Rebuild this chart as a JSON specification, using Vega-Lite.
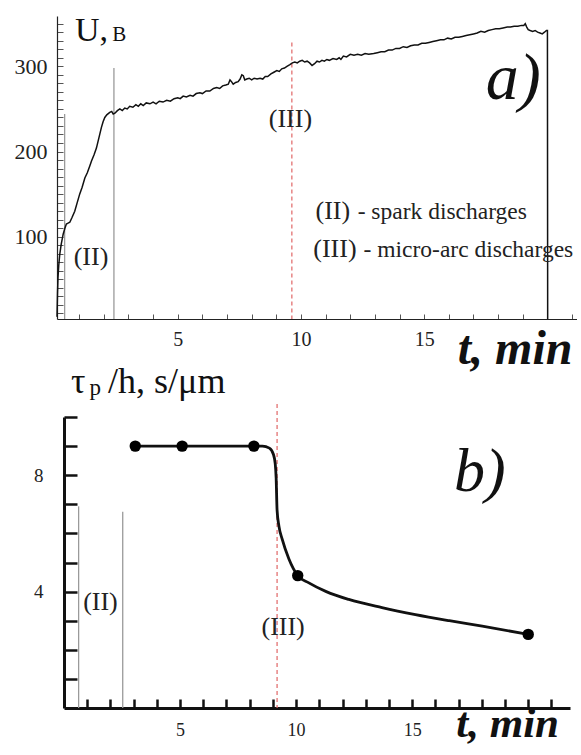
{
  "$schema": "https://vega.github.io/schema/vega-lite/v6.json",
  "padding": {"left": 14, "top": 12, "right": 0, "bottom": 0},
  "background": "white",
  "spacing": 98,
  "bounds": "flush",
  "center": true,
  "config": {
    "font": "Liberation Serif",
    "view": {"stroke": null},
    "axis": {"grid": false, "title": null, "labelFont": "Liberation Serif", "labelColor": "#222", "labelOverlap": false, "labelFlush": false}
  },
  "datasets": {
    "voltage": [
      {"t": 0.1, "v": 6}, {"t": 0.12, "v": 33}, {"t": 0.14, "v": 52}, {"t": 0.17, "v": 66}, {"t": 0.21, "v": 79},
      {"t": 0.27, "v": 91}, {"t": 0.35, "v": 103}, {"t": 0.42, "v": 110}, {"t": 0.48, "v": 115}, {"t": 0.55, "v": 116},
      {"t": 0.62, "v": 117}, {"t": 0.7, "v": 122}, {"t": 0.82, "v": 130}, {"t": 0.92, "v": 140}, {"t": 1.02, "v": 150},
      {"t": 1.12, "v": 158}, {"t": 1.23, "v": 169}, {"t": 1.33, "v": 175}, {"t": 1.43, "v": 183}, {"t": 1.5, "v": 189},
      {"t": 1.6, "v": 196}, {"t": 1.7, "v": 204}, {"t": 1.8, "v": 216}, {"t": 1.9, "v": 228}, {"t": 1.97, "v": 235},
      {"t": 2.04, "v": 240}, {"t": 2.12, "v": 243}, {"t": 2.24, "v": 246}, {"t": 2.32, "v": 247}, {"t": 2.38, "v": 244},
      {"t": 2.45, "v": 245}, {"t": 2.55, "v": 248}, {"t": 2.65, "v": 250}, {"t": 2.75, "v": 248}, {"t": 2.85, "v": 251},
      {"t": 2.95, "v": 250}, {"t": 3.05, "v": 253}, {"t": 3.18, "v": 252}, {"t": 3.3, "v": 255}, {"t": 3.4, "v": 253},
      {"t": 3.5, "v": 256}, {"t": 3.6, "v": 254}, {"t": 3.72, "v": 257}, {"t": 3.87, "v": 256}, {"t": 4.0, "v": 258},
      {"t": 4.12, "v": 256}, {"t": 4.25, "v": 259}, {"t": 4.4, "v": 258}, {"t": 4.55, "v": 260}, {"t": 4.7, "v": 259},
      {"t": 4.85, "v": 262}, {"t": 5.0, "v": 263}, {"t": 5.1, "v": 262}, {"t": 5.22, "v": 265}, {"t": 5.35, "v": 264},
      {"t": 5.5, "v": 266}, {"t": 5.62, "v": 265}, {"t": 5.75, "v": 268}, {"t": 5.9, "v": 269}, {"t": 6.0, "v": 268},
      {"t": 6.15, "v": 271}, {"t": 6.3, "v": 271}, {"t": 6.45, "v": 274}, {"t": 6.58, "v": 275}, {"t": 6.7, "v": 274},
      {"t": 6.82, "v": 277}, {"t": 6.95, "v": 278}, {"t": 7.05, "v": 279}, {"t": 7.12, "v": 284}, {"t": 7.18, "v": 282},
      {"t": 7.25, "v": 279}, {"t": 7.35, "v": 281}, {"t": 7.45, "v": 282}, {"t": 7.53, "v": 285}, {"t": 7.6, "v": 290},
      {"t": 7.66, "v": 289}, {"t": 7.72, "v": 284}, {"t": 7.8, "v": 285}, {"t": 7.9, "v": 286}, {"t": 8.0, "v": 284},
      {"t": 8.1, "v": 286}, {"t": 8.22, "v": 285}, {"t": 8.34, "v": 286}, {"t": 8.45, "v": 285}, {"t": 8.55, "v": 288},
      {"t": 8.65, "v": 288}, {"t": 8.78, "v": 291}, {"t": 8.9, "v": 293}, {"t": 9.02, "v": 295}, {"t": 9.12, "v": 294},
      {"t": 9.22, "v": 297}, {"t": 9.33, "v": 298}, {"t": 9.43, "v": 300}, {"t": 9.55, "v": 302}, {"t": 9.65, "v": 304},
      {"t": 9.75, "v": 305}, {"t": 9.85, "v": 304}, {"t": 9.95, "v": 306}, {"t": 10.05, "v": 307}, {"t": 10.15, "v": 305},
      {"t": 10.25, "v": 306}, {"t": 10.35, "v": 304}, {"t": 10.45, "v": 301}, {"t": 10.55, "v": 303}, {"t": 10.65, "v": 306},
      {"t": 10.75, "v": 305}, {"t": 10.85, "v": 307}, {"t": 10.95, "v": 306}, {"t": 11.05, "v": 308}, {"t": 11.15, "v": 307},
      {"t": 11.3, "v": 309}, {"t": 11.45, "v": 308}, {"t": 11.55, "v": 310}, {"t": 11.62, "v": 308}, {"t": 11.72, "v": 312},
      {"t": 11.85, "v": 311}, {"t": 12.0, "v": 314}, {"t": 12.15, "v": 313}, {"t": 12.3, "v": 314}, {"t": 12.45, "v": 313},
      {"t": 12.6, "v": 315}, {"t": 12.75, "v": 314}, {"t": 12.95, "v": 315}, {"t": 13.1, "v": 316}, {"t": 13.25, "v": 317},
      {"t": 13.4, "v": 317}, {"t": 13.55, "v": 319}, {"t": 13.7, "v": 319}, {"t": 13.85, "v": 321}, {"t": 14.0, "v": 321},
      {"t": 14.15, "v": 323}, {"t": 14.3, "v": 322}, {"t": 14.45, "v": 324}, {"t": 14.6, "v": 325}, {"t": 14.75, "v": 325},
      {"t": 14.9, "v": 327}, {"t": 15.05, "v": 327}, {"t": 15.2, "v": 328}, {"t": 15.35, "v": 329}, {"t": 15.5, "v": 330},
      {"t": 15.66, "v": 331}, {"t": 15.8, "v": 331}, {"t": 15.95, "v": 333}, {"t": 16.1, "v": 332}, {"t": 16.25, "v": 334},
      {"t": 16.4, "v": 334}, {"t": 16.55, "v": 335}, {"t": 16.7, "v": 336}, {"t": 16.85, "v": 337}, {"t": 17.0, "v": 338},
      {"t": 17.15, "v": 339}, {"t": 17.3, "v": 341}, {"t": 17.45, "v": 340}, {"t": 17.6, "v": 342}, {"t": 17.75, "v": 343},
      {"t": 17.9, "v": 344}, {"t": 18.05, "v": 344}, {"t": 18.2, "v": 345}, {"t": 18.37, "v": 346}, {"t": 18.5, "v": 346},
      {"t": 18.65, "v": 347}, {"t": 18.8, "v": 347}, {"t": 18.95, "v": 348}, {"t": 19.04, "v": 348}, {"t": 19.1, "v": 350},
      {"t": 19.16, "v": 346}, {"t": 19.22, "v": 343}, {"t": 19.3, "v": 342}, {"t": 19.4, "v": 341}, {"t": 19.5, "v": 342},
      {"t": 19.6, "v": 340}, {"t": 19.7, "v": 339}, {"t": 19.79, "v": 338}, {"t": 19.88, "v": 340}, {"t": 19.96, "v": 342},
      {"t": 20.0, "v": 342}, {"t": 20.01, "v": 3.5}
    ],
    "bordersA": [
      {"t": 0.41, "v": 244},
      {"t": 2.41, "v": 298}
    ],
    "arcA": [
      {"t": 9.63, "v": 328}
    ],
    "thicknessCurve": [
      {"t": 3.07, "v": 9.0}, {"t": 5.09, "v": 9.0}, {"t": 8.18, "v": 9.0}, {"t": 8.55, "v": 9.0},
      {"t": 8.85, "v": 8.93}, {"t": 9.02, "v": 8.72}, {"t": 9.1, "v": 8.4}, {"t": 9.14, "v": 7.9},
      {"t": 9.18, "v": 6.8}, {"t": 9.26, "v": 6.25}, {"t": 9.4, "v": 5.8}, {"t": 9.69, "v": 5.12},
      {"t": 10.07, "v": 4.55}, {"t": 10.55, "v": 4.3}, {"t": 11.3, "v": 4.0}, {"t": 12.27, "v": 3.73},
      {"t": 13.7, "v": 3.45}, {"t": 15.14, "v": 3.21}, {"t": 16.6, "v": 3.0}, {"t": 18.02, "v": 2.81},
      {"t": 20.0, "v": 2.53}
    ],
    "thicknessPoints": [
      {"t": 3.07, "v": 9.0}, {"t": 5.09, "v": 9.0}, {"t": 8.18, "v": 9.0}, {"t": 10.07, "v": 4.55}, {"t": 20.0, "v": 2.53}
    ],
    "bordersB": [
      {"t": 0.63, "v": 6.93},
      {"t": 2.53, "v": 6.74}
    ],
    "arcB": [
      {"t": 9.18, "v": 10.45}
    ]
  },
  "vconcat": [
    {
      "width": 520,
      "height": 303,
      "encoding": {
        "x": {"field": "t", "type": "quantitative",
          "scale": {"domain": [0.1, 21.2], "nice": false, "zero": false},
          "axis": {
            "values": [1,2,3,4,5,6,7,8,9,10,11,12,13,14,15,16,17,18,19,20,21],
            "labelExpr": "datum.value == 5 || datum.value == 10 || datum.value == 15 ? datum.label : ''",
            "tickSize": -5, "tickColor": "#555", "tickWidth": 1,
            "domainColor": "#222", "domainWidth": 1.2,
            "labelFontSize": 20, "labelPadding": 15, "labelBaseline": "top"
          }
        },
        "y": {"field": "v", "type": "quantitative",
          "scale": {"domain": [3.5, 359], "nice": false, "zero": false},
          "axis": {
            "values": [10,20,30,40,50,60,70,80,90,100,110,120,130,140,150,160,170,180,190,200,210,220,230,240,250,260,270,280,290,300,310,320,330,340,350],
            "labelExpr": "datum.value == 100 || datum.value == 200 || datum.value == 300 ? datum.label : ''",
            "tickSize": -6, "tickColor": "#555", "tickWidth": 1,
            "domainColor": "#222", "domainWidth": 1.2,
            "labelFontSize": 22, "labelPadding": 16, "labelBaseline": "middle", "labelAlign": "right"
          }
        }
      },
      "layer": [
        {
          "data": {"name": "bordersA"},
          "mark": {"type": "rule", "color": "#9a9a9a", "strokeWidth": 1.3},
          "encoding": {"y2": {"datum": 3.5}}
        },
        {
          "data": {"name": "arcA"},
          "mark": {"type": "rule", "color": "#e06666", "strokeWidth": 1.2, "strokeDash": [4, 3]},
          "encoding": {"y2": {"datum": 3.5}}
        },
        {
          "data": {"name": "voltage"},
          "mark": {"type": "line", "color": "#111", "strokeWidth": 1.5}
        },
        {
          "data": {"values": [{"t": 0.83, "v": 330, "label": "U,"}]},
          "mark": {"type": "text", "font": "Liberation Serif", "fontSize": 34, "align": "left", "baseline": "alphabetic", "color": "#111"},
          "encoding": {"text": {"field": "label"}}
        },
        {
          "data": {"values": [{"t": 2.34, "v": 330, "label": "B"}]},
          "mark": {"type": "text", "font": "Liberation Serif", "fontSize": 21, "align": "left", "baseline": "alphabetic", "color": "#111"},
          "encoding": {"text": {"field": "label"}}
        },
        {
          "data": {"values": [{"t": 17.5, "v": 262, "label": "a)"}]},
          "mark": {"type": "text", "font": "Liberation Serif", "fontSize": 66, "fontStyle": "italic", "align": "left", "baseline": "alphabetic", "color": "#111"},
          "encoding": {"text": {"field": "label"}}
        },
        {
          "data": {"values": [{"t": 9.57, "v": 238, "label": "(III)"}, {"t": 1.48, "v": 76, "label": "(II)"}]},
          "mark": {"type": "text", "font": "Liberation Serif", "fontSize": 26, "align": "center", "baseline": "middle", "color": "#222"},
          "encoding": {"text": {"field": "label"}}
        },
        {
          "data": {"values": [{"t": 10.59, "v": 130, "label": "(II)"}, {"t": 10.5, "v": 86, "label": "(III)"}]},
          "mark": {"type": "text", "font": "Liberation Serif", "fontSize": 26, "align": "left", "baseline": "middle", "color": "#222"},
          "encoding": {"text": {"field": "label"}}
        },
        {
          "data": {"values": [{"t": 12.3, "v": 129, "label": "- spark discharges"}, {"t": 12.54, "v": 84.5, "label": "- micro-arc discharges"}]},
          "mark": {"type": "text", "font": "Liberation Serif", "fontSize": 23.5, "align": "left", "baseline": "middle", "color": "#222"},
          "encoding": {"text": {"field": "label"}}
        },
        {
          "data": {"values": [{"t": 16.36, "v": -49, "label": "t, min"}]},
          "mark": {"type": "text", "font": "Liberation Serif", "fontSize": 48, "fontStyle": "italic", "fontWeight": "bold", "align": "left", "baseline": "alphabetic", "color": "#111"},
          "encoding": {"text": {"field": "label"}}
        }
      ]
    },
    {
      "width": 506,
      "height": 291,
      "encoding": {
        "x": {"field": "t", "type": "quantitative",
          "scale": {"domain": [0, 21.8], "nice": false, "zero": false},
          "axis": {
            "values": [1,2,3,4,5,6,7,8,9,10,11,12,13,14,15,16,17,18,19,20,21],
            "labelExpr": "datum.value == 5 || datum.value == 10 || datum.value == 15 ? datum.label : ''",
            "tickSize": -9, "tickColor": "#111", "tickWidth": 2.5,
            "domainColor": "#111", "domainWidth": 3,
            "labelFontSize": 18, "labelPadding": 22, "labelBaseline": "top"
          }
        },
        "y": {"field": "v", "type": "quantitative",
          "scale": {"domain": [0, 10], "nice": false, "zero": false},
          "axis": {
            "values": [1,2,3,4,5,6,7,8,9,10],
            "labelExpr": "datum.value == 4 || datum.value == 8 ? datum.label : ''",
            "tickSize": -13, "tickColor": "#111", "tickWidth": 2.5,
            "domainColor": "#111", "domainWidth": 3,
            "labelFontSize": 19, "labelPadding": 34, "labelBaseline": "middle", "labelAlign": "right"
          }
        }
      },
      "layer": [
        {
          "data": {"name": "bordersB"},
          "mark": {"type": "rule", "color": "#9a9a9a", "strokeWidth": 1.3},
          "encoding": {"y2": {"datum": 0}}
        },
        {
          "data": {"name": "arcB"},
          "mark": {"type": "rule", "color": "#e06666", "strokeWidth": 1.2, "strokeDash": [4, 3]},
          "encoding": {"y2": {"datum": 0}}
        },
        {
          "data": {"name": "thicknessCurve"},
          "mark": {"type": "line", "color": "#111", "strokeWidth": 2.8, "interpolate": "monotone"}
        },
        {
          "data": {"name": "thicknessPoints"},
          "mark": {"type": "point", "filled": true, "color": "#000", "size": 130, "opacity": 1}
        },
        {
          "data": {"values": [{"t": 0.3, "v": 10.81, "label": "τ"}, {"t": 1.9, "v": 10.81, "label": "/h, s/μm"}]},
          "mark": {"type": "text", "font": "Liberation Serif", "fontSize": 36, "align": "left", "baseline": "alphabetic", "color": "#111"},
          "encoding": {"text": {"field": "label"}}
        },
        {
          "data": {"values": [{"t": 1.1, "v": 10.76, "label": "p"}]},
          "mark": {"type": "text", "font": "Liberation Serif", "fontSize": 23, "align": "left", "baseline": "alphabetic", "color": "#111"},
          "encoding": {"text": {"field": "label"}}
        },
        {
          "data": {"values": [{"t": 1.57, "v": 3.64, "label": "(II)"}, {"t": 9.44, "v": 2.78, "label": "(III)"}]},
          "mark": {"type": "text", "font": "Liberation Serif", "fontSize": 26, "align": "center", "baseline": "middle", "color": "#222"},
          "encoding": {"text": {"field": "label"}}
        },
        {
          "data": {"values": [{"t": 16.8, "v": 7.47, "label": "b)"}]},
          "mark": {"type": "text", "font": "Liberation Serif", "fontSize": 62, "fontStyle": "italic", "align": "left", "baseline": "alphabetic", "color": "#111"},
          "encoding": {"text": {"field": "label"}}
        },
        {
          "data": {"values": [{"t": 16.9, "v": -0.98, "label": "t, min"}]},
          "mark": {"type": "text", "font": "Liberation Serif", "fontSize": 43, "fontStyle": "italic", "fontWeight": "bold", "align": "left", "baseline": "alphabetic", "color": "#111"},
          "encoding": {"text": {"field": "label"}}
        }
      ]
    }
  ]
}
